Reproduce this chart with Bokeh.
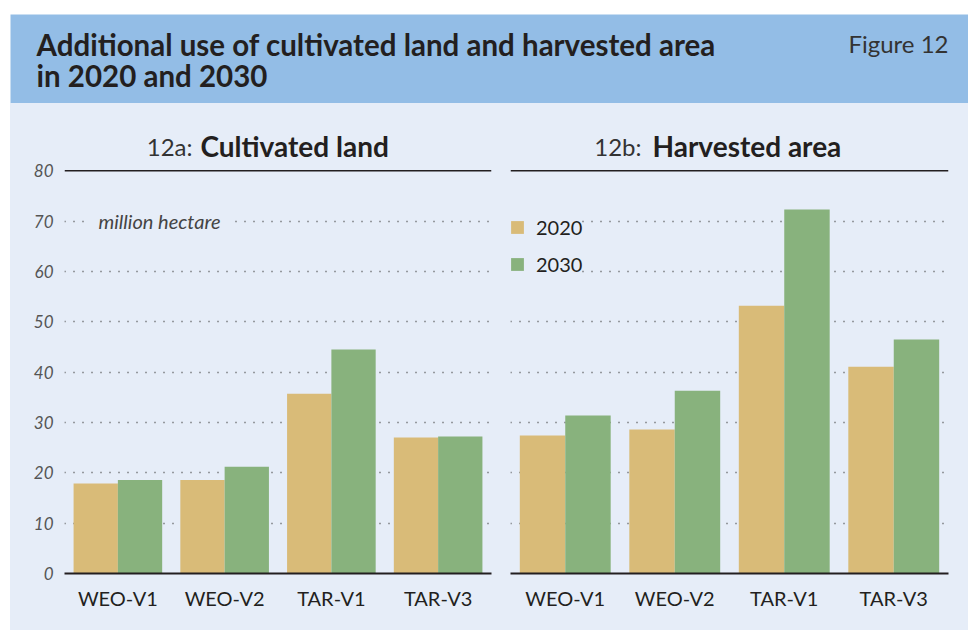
from bokeh.plotting import figure
from bokeh.models import (FactorRange, Range1d, FixedTicker, Span, Label, Legend,
                          LegendItem, ColumnDataSource, Spacer)
from bokeh.layouts import column, row
from bokeh.transform import dodge
from bokeh.embed import file_html
from bokeh.resources import INLINE

# ---- data ----
scenarios = ["WEO-V1", "WEO-V2", "TAR-V1", "TAR-V3"]
years = ["2020", "2030"]
cultivated_2020 = [17.9, 18.6, 35.7, 27.0]
cultivated_2030 = [18.6, 21.2, 44.5, 27.2]
harvested_2020 = [27.4, 28.6, 53.2, 41.1]
harvested_2030 = [31.4, 36.3, 72.3, 46.5]
y_ticks = [0, 10, 20, 30, 40, 50, 60, 70, 80]
grid_ticks = [10, 20, 30, 40, 50, 60, 70]
title_line1 = "Additional use of cultivated land and harvested area"
title_line2 = "in 2020 and 2030"
figure_label = "Figure 12"
unit_label = "million hectare"

# ---- styles ----
FONT = "Lato"
BG = "#e6edf8"
HEAD = "#93bde6"
C2020 = "#d9bb78"
C2030 = "#88b27d"
DARK = "#231f20"
GRAY = "#555555"
PANEL_H = 527
BAR_W = 0.415


def make_panel(v20, v30, width, bl, br, show_y, prefix, bold, pre_off, bold_off):
    p = figure(x_range=FactorRange(*scenarios), y_range=Range1d(0, 90),
               width=width, height=PANEL_H, output_backend="svg",
               toolbar_location=None, min_border_left=bl, min_border_right=br,
               min_border_top=17, min_border_bottom=57,
               background_fill_color=BG, border_fill_color=BG,
               outline_line_color=None)
    src = ColumnDataSource(dict(x=scenarios, v20=v20, v30=v30))
    r20 = p.vbar(x=dodge("x", -BAR_W / 2, range=p.x_range), top="v20", width=BAR_W,
                 source=src, fill_color=C2020, line_color=None)
    r30 = p.vbar(x=dodge("x", BAR_W / 2, range=p.x_range), top="v30", width=BAR_W,
                 source=src, fill_color=C2030, line_color=None)

    p.xgrid.visible = False
    p.ygrid.ticker = FixedTicker(ticks=grid_ticks)
    p.ygrid.grid_line_color = "#444444"
    p.ygrid.grid_line_dash = "1 8"
    p.ygrid.grid_line_width = 1.5

    p.add_layout(Span(location=80, dimension="width", line_color=DARK, line_width=1.5))

    xa = p.xaxis[0]
    xa.axis_line_color = DARK
    xa.axis_line_width = 2
    xa.major_tick_line_color = None
    xa.minor_tick_line_color = None
    xa.major_tick_out = 0
    xa.major_label_standoff = 12
    xa.major_label_text_font = FONT
    xa.major_label_text_font_size = "20px"
    xa.major_label_text_color = DARK

    ya = p.yaxis[0]
    if show_y:
        ya.ticker = FixedTicker(ticks=y_ticks)
        ya.axis_line_color = None
        ya.major_tick_line_color = None
        ya.minor_tick_line_color = None
        ya.major_tick_out = 0
        ya.major_label_standoff = 11
        ya.major_label_text_font = FONT
        ya.major_label_text_font_style = "italic"
        ya.major_label_text_font_size = "17px"
        ya.major_label_text_color = GRAY
    else:
        ya.visible = False

    p.add_layout(Label(x=0, y=84.9, x_offset=pre_off, text=prefix,
                       text_align="right", text_baseline="middle",
                       text_font=FONT, text_font_size="24px", text_color="#333333"))
    p.add_layout(Label(x=0, y=84.9, x_offset=bold_off, text=bold,
                       text_align="left", text_baseline="middle",
                       text_font=FONT, text_font_size="28px", text_font_style="bold",
                       text_color=DARK))
    return p, r20, r30


left, _, _ = make_panel(cultivated_2020, cultivated_2030, 490, 54, 9, True,
                        "12a:", "Cultivated land", 128, 136)
left.add_layout(Label(x=0, y=70, x_offset=26, text=unit_label, text_align="left",
                      text_baseline="middle", text_font=FONT, text_font_size="20px",
                      text_font_style="italic", text_color="#444444",
                      background_fill_color=BG, padding=8))

right, r20, r30 = make_panel(harvested_2020, harvested_2030, 468, 10, 20, False,
                             "12b:", "Harvested area", 131, 142)
legend = Legend(items=[LegendItem(label=years[0], renderers=[r20]),
                       LegendItem(label=years[1], renderers=[r30])],
                location=(-1, 297), padding=14, spacing=13,
                glyph_width=16, glyph_height=16, label_standoff=11,
                label_text_font=FONT, label_text_font_size="20px",
                label_text_color=DARK, background_fill_color=BG,
                background_fill_alpha=1.0, border_line_color=None)
right.add_layout(legend)

header = figure(width=958, height=89, x_range=Range1d(0, 958), y_range=Range1d(0, 89),
                output_backend="svg", toolbar_location=None, min_border=0,
                x_axis_type=None, y_axis_type=None,
                background_fill_color=HEAD, border_fill_color=HEAD,
                outline_line_color=None)
header.grid.visible = False
header.add_layout(Label(x=26, y=59, text=title_line1, text_font=FONT,
                        text_font_size="29.5px", text_font_style="bold",
                        text_color=DARK, text_baseline="middle"))
header.add_layout(Label(x=26, y=28, text=title_line2, text_font=FONT,
                        text_font_size="29.5px", text_font_style="bold",
                        text_color=DARK, text_baseline="middle"))
header.add_layout(Label(x=938, y=60.5, text=figure_label, text_font=FONT,
                        text_font_size="24px", text_align="right",
                        text_color="#333333", text_baseline="middle"))

panels = row(left, right, styles={"background-color": BG})
layout = column(Spacer(width=968, height=14),
                row(Spacer(width=10, height=616),
                    column(header, panels)))

open("out.html", "w").write(file_html(layout, INLINE))
